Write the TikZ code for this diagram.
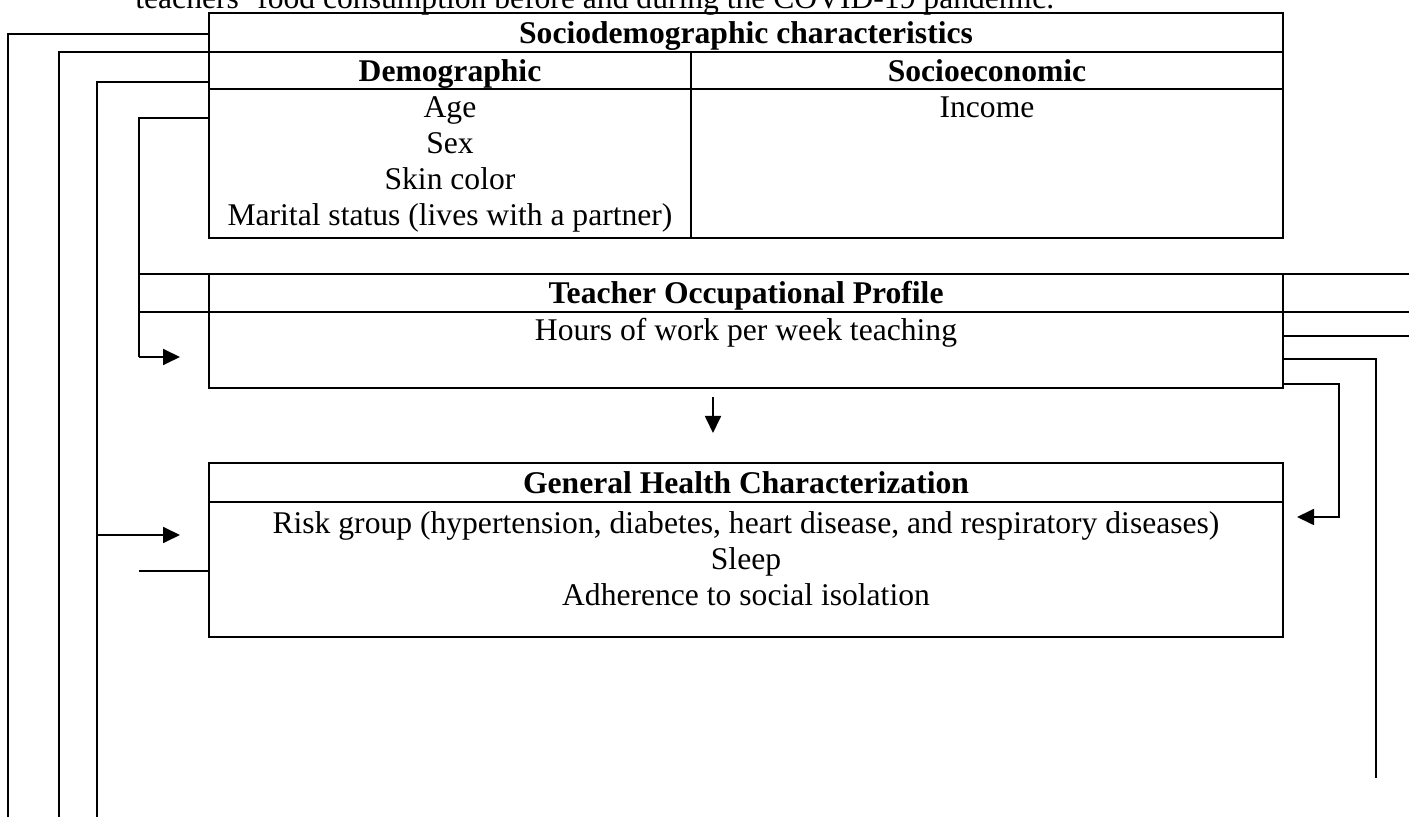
\documentclass[tikz,border=0pt]{standalone}
\usepackage{fontspec}
\setmainfont{Liberation Serif}
\usetikzlibrary{arrows.meta}

\begin{document}
\begin{tikzpicture}[
x=0.5pt, y=-0.5pt,
box/.style={draw, line width=0.6pt, inner sep=0pt, outer sep=0pt, anchor=north west},
rule/.style={line width=0.6pt},
txt/.style={anchor=base, inner sep=0pt, font=\fontsize{15.8}{18}\selectfont},
head/.style={txt, font=\fontsize{15.8}{18}\selectfont\bfseries},
wire/.style={line width=0.9pt},
tip/.style={-{Triangle[length=8.5pt,width=8pt]}}
]
\useasboundingbox (0,0) rectangle (1409,817);

% caption, cut by the top of the page
\node[txt, anchor=base west] (cap) at (135,9) {teachers' food consumption before and during the COVID-19 pandemic.};

% the three tables
\node[box, minimum width=537pt, minimum height=112.5pt] (socio) at (209,13) {};
\node[box, minimum width=537pt, minimum height=57pt] (occup) at (209,274) {};
\node[box, minimum width=537pt, minimum height=87pt] (health) at (209,463) {};

\draw[rule] (209,52) -- (1283,52);
\draw[rule] (209,89) -- (1283,89);
\draw[rule] (691,52) -- (691,238);
\draw[rule] (209,502) -- (1283,502);

\node[head] (sociotitle) at (746,44) {Sociodemographic characteristics};
\node[head] (demo) at (450,82) {Demographic};
\node[head] (econ) at (987,82) {Socioeconomic};
\node[txt] (age) at (450,118) {Age};
\node[txt] (sex) at (450,154) {Sex};
\node[txt] (skin) at (450,190) {Skin color};
\node[txt] (marital) at (450,226) {Marital status (lives with a partner)};
\node[txt] (income) at (987,118) {Income};

\node[head] (occuptitle) at (746,304) {Teacher Occupational Profile};
\node[txt] (hours) at (746,341) {Hours of work per week teaching};

\node[head] (healthtitle) at (746,494) {General Health Characterization};
\node[txt] (risk) at (746,534) {Risk group (hypertension, diabetes, heart disease, and respiratory diseases)};
\node[txt] (sleep) at (746,570) {Sleep};
\node[txt] (isol) at (746,606) {Adherence to social isolation};

% connector ends
\coordinate (edge) at (1409,0);
\coordinate (a1) at (8,34);
\coordinate (a1end) at (8,817);
\coordinate (a2) at (59,52);
\coordinate (a2end) at (59,817);
\coordinate (a3) at (97,82);
\coordinate (a3turn) at (97,535);
\coordinate (a3end) at (97,817);
\coordinate (a3tip) at (180,535);
\coordinate (a4) at (139,118);
\coordinate (a4turn) at (139,357);
\coordinate (a4tip) at (180,357);
\coordinate (ohead) at (0,312);
\coordinate (a5) at (139,571);
\coordinate (down1) at (713,397);
\coordinate (down2) at (713,433);
\coordinate (b1) at (1409,336);
\coordinate (b2) at (1376,359);
\coordinate (b2end) at (1376,778);
\coordinate (b3) at (1339,384);
\coordinate (b3turn) at (1339,517);
\coordinate (b3tip) at (1297,517);

% left side
\draw[wire, line width=1.1pt] (socio.west |- a1) -- (a1) -- (a1end);
\draw[wire, line width=1.1pt] (socio.west |- a2) -- (a2) -- (a2end);
\draw[wire] (socio.west |- a3) -- (a3) -- (a3end);
\draw[wire, tip] (a3turn) -- (a3tip);
\draw[wire] (socio.west |- a4) -- (a4) -- (a4turn);
\draw[wire, tip] (a4turn) -- (a4tip);
\draw[wire] (a4 |- occup.north) -- (edge |- occup.north);
\draw[wire] (a4 |- ohead) -- (edge |- ohead);
\draw[wire] (a5) -- (health.west |- a5);

% middle
\draw[wire, tip] (down1) -- (down2);

% right side
\draw[wire] (occup.east |- b1) -- (b1);
\draw[wire] (occup.east |- b2) -- (b2) -- (b2end);
\draw[wire, tip] (occup.east |- b3) -- (b3) -- (b3turn) -- (b3tip);
\end{tikzpicture}
\end{document}
